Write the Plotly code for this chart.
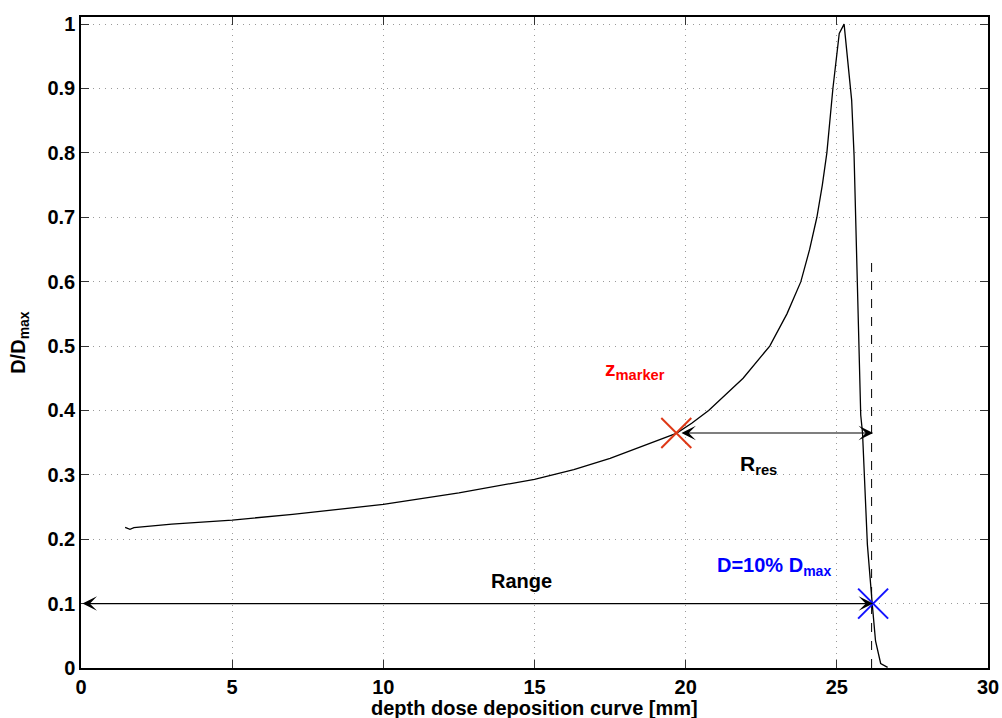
import plotly.graph_objects as go

# depth-dose curve
depth_mm = [1.46, 1.62, 1.75, 3.0, 5.0, 7.0, 10.0, 10.9, 12.5, 15.0, 16.3, 17.5, 18.84, 19.69,
            20.2, 20.76, 21.9, 22.78, 23.35, 23.81, 24.1, 24.34, 24.52, 24.67, 24.87, 25.08,
            25.24, 25.41, 25.49, 25.57, 25.62, 25.70, 25.79, 25.85, 26.01, 26.17, 26.28,
            26.45, 26.68]
dose_rel = [0.2185, 0.2154, 0.218, 0.2235, 0.2298, 0.2385, 0.2541, 0.2609, 0.272, 0.293, 0.308,
            0.3256, 0.349, 0.3644, 0.38, 0.40, 0.45, 0.50, 0.55, 0.60, 0.65, 0.70, 0.75,
            0.80, 0.90, 0.9855, 1.0, 0.918, 0.882, 0.796, 0.71, 0.537, 0.393, 0.365, 0.192,
            0.10, 0.042, 0.007, 0.001]

x_ticks = [0, 5, 10, 15, 20, 25, 30]
y_ticks = [0, 0.1, 0.2, 0.3, 0.4, 0.5, 0.6, 0.7, 0.8, 0.9, 1.0]
y_ticktext = ["0", "0.1", "0.2", "0.3", "0.4", "0.5", "0.6", "0.7", "0.8", "0.9", "1"]

z_marker = (19.69, 0.365)
d10 = (26.2, 0.10)
dashed_x = 26.15
dashed_top = 0.64

FONT = "Liberation Sans"
RED_X = "rgb(222,56,22)"
BLUE_X = "rgb(20,20,255)"

fig = go.Figure()
fig.add_trace(go.Scatter(x=depth_mm, y=dose_rel, mode="lines",
                         line=dict(color="black", width=1.3), showlegend=False))
fig.add_trace(go.Scatter(x=[dashed_x, dashed_x], y=[0, dashed_top], mode="lines",
                         line=dict(color="black", width=1, dash="dash"), showlegend=False))
fig.add_trace(go.Scatter(x=[z_marker[0]], y=[z_marker[1]], mode="markers",
                         marker=dict(symbol="x-thin-open", size=30, color=RED_X,
                                     line=dict(color=RED_X, width=2)),
                         showlegend=False))
fig.add_trace(go.Scatter(x=[d10[0]], y=[d10[1]], mode="markers",
                         marker=dict(symbol="x-thin-open", size=30, color=BLUE_X,
                                     line=dict(color=BLUE_X, width=2)),
                         showlegend=False))

arrow_common = dict(text="", showarrow=True, xref="x", yref="y", axref="x", ayref="y",
                    arrowside="end+start", arrowhead=3, startarrowhead=3,
                    arrowsize=2.2, startarrowsize=2.2, arrowwidth=1.1,
                    arrowcolor="black", standoff=0, startstandoff=0)
# Range arrow
fig.add_annotation(x=d10[0], y=d10[1], ax=0, ay=d10[1], **arrow_common)
# R_res arrow
fig.add_annotation(x=26.2, y=z_marker[1], ax=19.81, ay=z_marker[1], **arrow_common)

fig.add_annotation(x=14.57, y=0.135, text="Range", xref="x", yref="y", showarrow=False,
                   font=dict(family=FONT, size=20, weight="bold", color="black"))
fig.add_annotation(x=22.42, y=0.315, text="R<sub>res</sub>", xref="x", yref="y", showarrow=False,
                   font=dict(family=FONT, size=21, weight="bold", color="black"))
fig.add_annotation(x=18.31, y=0.463, text="z<sub>marker</sub>", xref="x", yref="y", showarrow=False,
                   font=dict(family=FONT, size=21, weight="bold", color="red"))
fig.add_annotation(x=22.91, y=0.158, text="D=10% D<sub>max</sub>", xref="x", yref="y", showarrow=False,
                   font=dict(family=FONT, size=20, weight="bold", color="blue"))

# axis titles
fig.add_annotation(xref="paper", yref="paper", x=0.5, y=-0.062, yanchor="middle",
                   text="depth dose deposition curve [mm]", showarrow=False,
                   font=dict(family=FONT, size=20, weight="bold", color="black"))
fig.add_annotation(xref="paper", yref="paper", x=-0.068, y=0.5, xanchor="center",
                   text="D/D<sub>max</sub>", textangle=-90, showarrow=False,
                   font=dict(family=FONT, size=20, weight="bold", color="black"))

axis_common = dict(ticks="inside", ticklen=8, tickcolor="#333", tickwidth=1,
                   showline=True, linecolor="black", linewidth=1.5, mirror="ticks",
                   showgrid=True, gridcolor="#9a9a9a", griddash="1px,5px", gridwidth=1,
                   zeroline=False, tickfont=dict(family=FONT, size=20, weight="bold", color="black"))

fig.update_layout(
    width=1002, height=718, autosize=False,
    margin=dict(l=81, r=14, t=17, b=50),
    paper_bgcolor="white", plot_bgcolor="white",
    xaxis=dict(range=[0, 30], tickvals=x_ticks, automargin=False, **axis_common),
    yaxis=dict(range=[0, 1.011], tickvals=y_ticks, ticktext=y_ticktext, automargin=False,
               **axis_common),
    showlegend=False,
)

fig.write_html("out.html")
